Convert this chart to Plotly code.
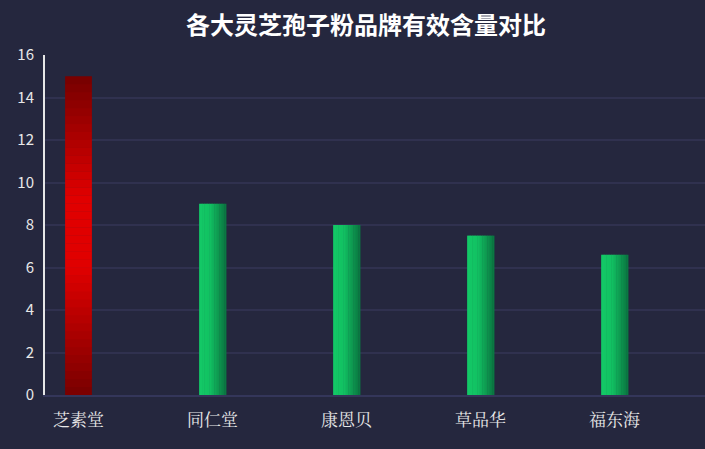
import plotly.graph_objects as go

# brands and effective content values
brands = ["芝素堂", "同仁堂", "康恩贝", "草品华", "福东海"]
values = [15, 9, 8, 7.5, 6.6]
y_ticks = [0, 2, 4, 6, 8, 10, 12, 14, 16]

title_text = "各大灵芝孢子粉品牌有效含量对比"
bg = "#25273e"
bar_w = 0.2


def mix(c1, c2, t):
    a = [int(c1[i:i + 2], 16) for i in (1, 3, 5)]
    b = [int(c2[i:i + 2], 16) for i in (1, 3, 5)]
    return "rgb(%d,%d,%d)" % tuple(round(a[j] + (b[j] - a[j]) * t) for j in range(3))


def ramp(stops, t):
    # stops: list of (pos, color)
    for (p0, c0), (p1, c1) in zip(stops, stops[1:]):
        if t <= p1:
            return mix(c0, c1, (t - p0) / (p1 - p0) if p1 > p0 else 0)
    return mix(stops[-1][1], stops[-1][1], 0)


green_stops = [(0, "#13ca67"), (0.4, "#12c162"), (1, "#0a7440")]
red_stops = [(0, "#780000"), (0.4, "#e00000"), (0.62, "#e00000"), (1, "#760000")]

fig = go.Figure()

# horizontal gradient: each green bar split into thin vertical strips
n = 16
strip_w = bar_w / n
for k in range(n):
    gc = ramp(green_stops, (k + 0.5) / n)
    fig.add_trace(go.Bar(
        x=brands[1:],
        y=values[1:],
        width=strip_w * 1.3,
        offset=-bar_w / 2 + k * strip_w,
        marker=dict(color=gc, line=dict(width=0)),
        hoverinfo="x+y",
        showlegend=False,
    ))

# vertical gradient on the first (red) bar: dark at ends, bright in middle
m = 40
for k in range(m):
    lo, hi = k / m, (k + 1) / m
    fig.add_trace(go.Bar(
        x=[brands[0]],
        y=[values[0] * (hi - lo) * 1.05 if k < m - 1 else values[0] * (hi - lo)],
        base=[values[0] * lo],
        width=bar_w,
        marker=dict(color=ramp(red_stops, (k + 0.5) / m), line=dict(width=0)),
        hoverinfo="skip",
        showlegend=False,
    ))

fig.update_layout(
    width=705,
    height=449,
    barmode="overlay",
    paper_bgcolor=bg,
    plot_bgcolor=bg,
    margin=dict(l=45, r=0, t=55, b=54),
    title=dict(
        text="<b>" + title_text + "</b>",
        x=0.519,
        xanchor="center",
        y=0.942,
        yanchor="middle",
        font=dict(family="Noto Sans CJK SC", size=24, color="#ffffff"),
    ),
    xaxis=dict(
        type="category",
        categoryorder="array",
        categoryarray=brands,
        range=[-0.25, 4.675],
        showgrid=False,
        showline=True,
        linecolor="#34365a",
        linewidth=2,
        ticks="",
        ticklabelstandoff=9,
        tickfont=dict(family="Noto Serif CJK SC, Noto Sans CJK SC", size=17, color="#e8e8e8"),
    ),
    yaxis=dict(
        range=[0, 16],
        tickvals=y_ticks,
        showgrid=True,
        gridcolor="#30314f",
        gridwidth=2,
        zeroline=False,
        showline=True,
        linecolor="#e6e6e6",
        linewidth=2,
        ticks="",
        ticklabelstandoff=6,
        tickfont=dict(family="Noto Sans CJK SC", size=15, color="#e8e8e8"),
    ),
)

fig.write_html(
    "out.html",
    config={"displayModeBar": False},
    post_script="document.body.style.margin='0';",
)
